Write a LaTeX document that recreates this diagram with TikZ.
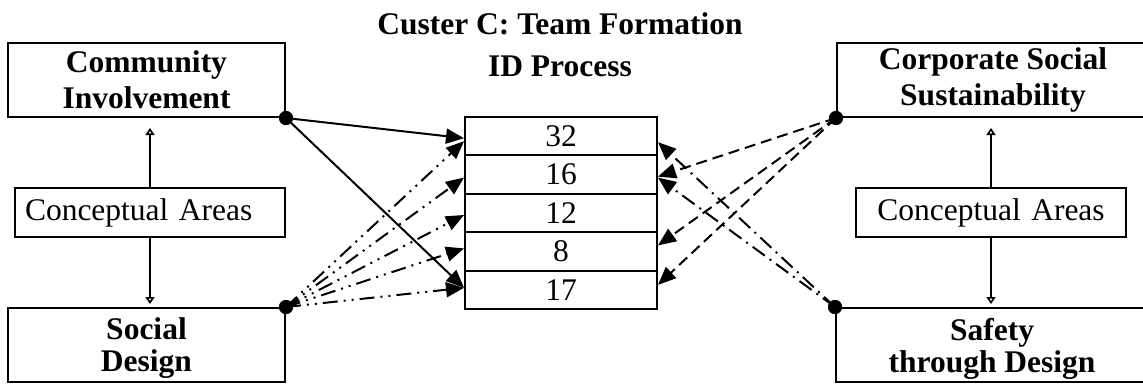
\documentclass[tikz,border=0pt]{standalone}
\usepackage{fontspec}
\setmainfont{Liberation Serif}
\usetikzlibrary{arrows.meta}
\begin{document}
\begin{tikzpicture}[x=1pt,y=-1pt,
  heading/.style={font=\fontsize{31.5}{36}\selectfont\bfseries, inner sep=0pt},
  area/.style={draw, line width=2pt, inner sep=0pt, minimum height=74pt},
  areatext/.style={inner sep=0pt, align=center, font=\fontsize{31.5}{36}\selectfont\bfseries},
  concept/.style={draw, line width=1.6pt, inner xsep=10pt, inner ysep=0pt,
    text width=250pt, minimum height=49pt, font=\fontsize{31.5}{36}\selectfont},
  cell/.style={draw, line width=2pt, minimum width=192pt, minimum height=38.4pt,
    inner sep=0pt, font=\fontsize{31.5}{36}\selectfont},
  hub/.style={circle, fill, inner sep=0pt, minimum size=14pt},
  vlink/.style={line width=1.6pt, -{Triangle[open,length=7pt,width=9pt]}},
  link/.style={line width=2pt, -{Triangle[length=18pt,width=15pt]}},
  solidlink/.style={link},
  dotdotlink/.style={link, dash pattern=on 15pt off 6pt on 2pt off 6pt on 2pt off 6pt},
  dashlink/.style={link, dash pattern=on 11pt off 6pt},
  dotlink/.style={link, dash pattern=on 15pt off 6pt on 2pt off 6pt},
]
\useasboundingbox (0,0) rectangle (1143,384);

% title
\node[heading, anchor=base] (t1) at (560,34) {Custer C: Team Formation};
\node[heading, anchor=base] (t2) at (560,76) {ID Process};

% the four areas
\node[area, minimum width=277pt] (ci) at (146.5,80) {};
\node[areatext] (cit) at (146.5,80) {Community\\Involvement};
\node[area, minimum width=277pt] (sd) at (146.5,345) {};
\node[areatext, font=\fontsize{31.5}{32}\selectfont\bfseries] (sdt) at (146.5,348.5) {Social\\Design};
\node[area, minimum width=312pt] (cs) at (993,80) {};
\node[areatext] (cst) at (993,80) {Corporate Social\\Sustainability};
\node[area, minimum width=312pt] (st) at (992,345) {};
\node[areatext, font=\fontsize{31.5}{32}\selectfont\bfseries] (stt) at (992,348.5) {Safety\\through Design};

% conceptual areas boxes
\node[concept, align=left] (cal) at (150,212.5) {Conceptual Areas};
\node[concept, align=center] (car) at (991,212.5) {Conceptual Areas};

\draw[vlink, shorten >=10pt] (cal.north) -- (ci.south -| cal.north);
\draw[vlink, shorten >=3pt] (cal.south) -- (sd.north -| cal.south);
\draw[vlink, shorten >=10pt] (car.north) -- (cs.south -| car.north);
\draw[vlink, shorten >=3pt] (car.south) -- (st.north -| car.south);

% ID process table
\node[cell] (r32) at (561,136.2) {32};
\node[cell] (r16) at (561,174.6) {16};
\node[cell] (r12) at (561,213.0) {12};
\node[cell] (r8)  at (561,251.4) {8};
\node[cell] (r17) at (561,289.8) {17};

% connection points
\node[hub] (hci) at (ci.south east) {};
\node[hub] (hsd) at (sd.north east) {};
\node[hub] (hcs) at (cs.south west) {};
\node[hub] (hst) at (st.north west) {};

% Community Involvement
\draw[solidlink] (hci.center) -- ([yshift=-2pt]r32.west);
\draw[solidlink] (hci.center) -- ([yshift=2pt]r17.west);

% Social Design
\draw[dotdotlink] (hsd.center) -- ([yshift=-5pt]r32.west);
\draw[dotdotlink] (hsd.center) -- ([yshift=-3pt]r16.west);
\draw[dotdotlink] (hsd.center) -- ([yshift=-2pt]r12.west);
\draw[dotdotlink] (hsd.center) -- ([yshift=3pt]r8.west);
\draw[dotdotlink] (hsd.center) -- ([yshift=2pt]r17.west);

% Corporate Social Sustainability
\draw[dashlink] (hcs.center) -- ([yshift=-2pt]r16.east);
\draw[dashlink] (hcs.center) -- ([yshift=6pt]r8.east);
\draw[dashlink] (hcs.center) -- ([yshift=5pt]r17.east);

% Safety through Design
\draw[dotlink] (hst.center) -- ([yshift=-6pt]r32.east);
\draw[dotlink] (hst.center) -- ([yshift=-3pt]r16.east);

% hubs on top
\foreach \h in {hci,hsd,hcs,hst} \fill (\h) circle (7pt);
\end{tikzpicture}
\end{document}
